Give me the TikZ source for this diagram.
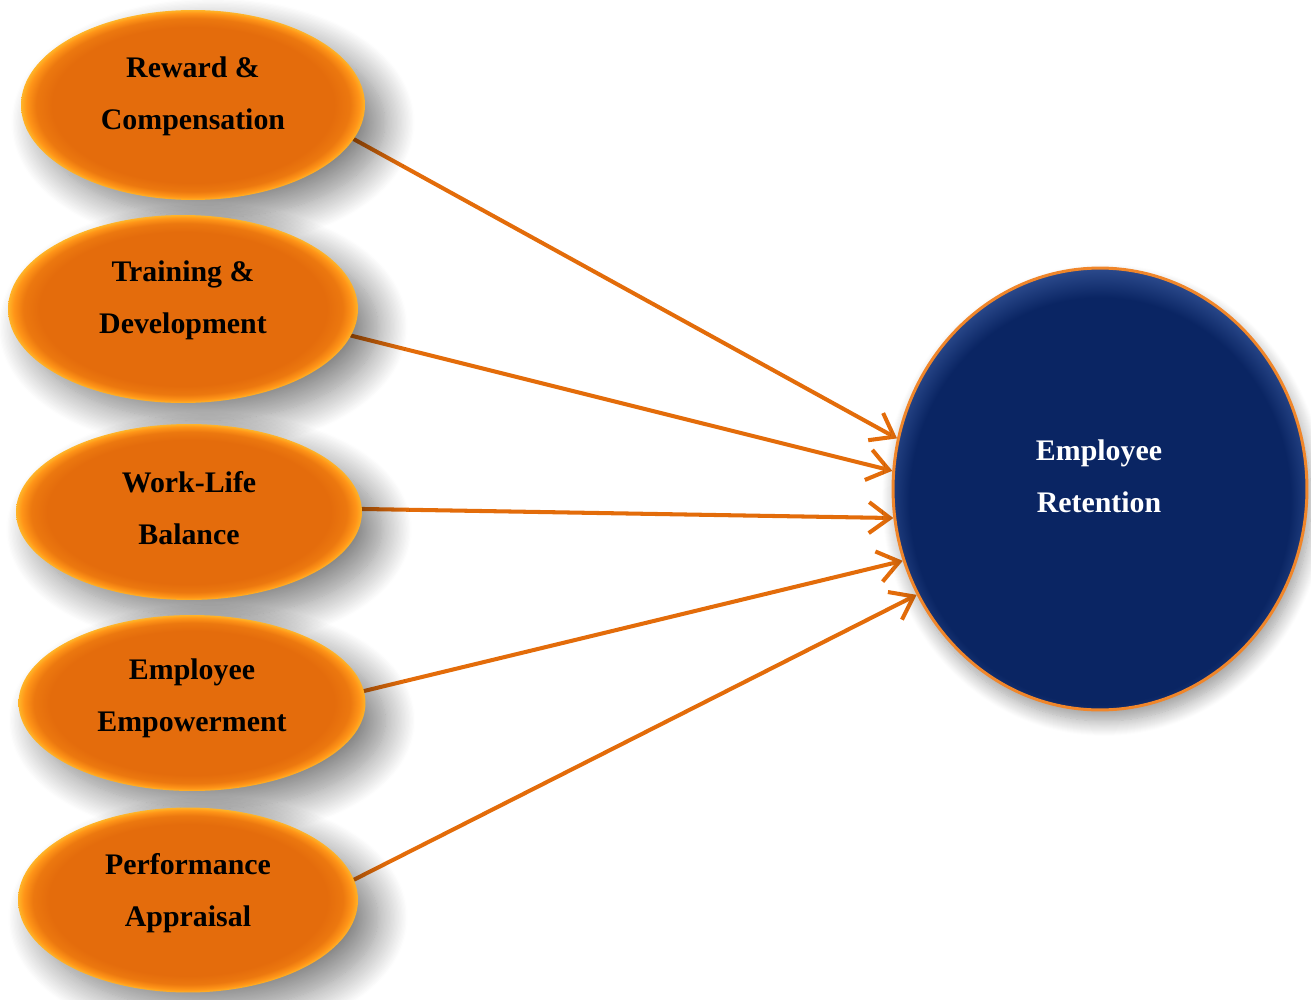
\documentclass[tikz,border=0pt]{standalone}
\usepackage{fontspec}
\setmainfont{Liberation Serif}
\usetikzlibrary{shapes.geometric,arrows.meta,shadows.blur}

\definecolor{ovalcore}{HTML}{E46C0C}
\definecolor{ovalmid}{HTML}{EC780F}
\definecolor{ovalrim}{HTML}{FF9518}
\definecolor{ovaledge}{HTML}{FFB428}
\definecolor{navy}{HTML}{0A2563}
\definecolor{navylight}{HTML}{3A5A9E}
\definecolor{ringorange}{HTML}{F0862A}
\definecolor{linkorange}{HTML}{E36C0A}

% glossy orange oval: the node border falls on the 25bp circle
\pgfdeclareradialshading{ovalglow}{\pgfpoint{0bp}{0bp}}{%
  color(0bp)=(ovalcore); color(20.5bp)=(ovalcore); color(22.8bp)=(ovalmid);
  color(24.2bp)=(ovalrim); color(25bp)=(ovaledge); color(50bp)=(ovaledge)}
% dark disc, lit from above
\pgfdeclareradialshading{discglow}{\pgfpoint{0bp}{-2.5bp}}{%
  color(0bp)=(navy); color(23bp)=(navy); color(27.5bp)=(navylight);
  color(50bp)=(navylight)}

\pgfdeclarelayer{background}
\pgfsetlayers{background,main}

\tikzset{
  oval/.style={ellipse, inner sep=0pt, shading=ovalglow,
    blur shadow={shadow xshift=0.4cm, shadow yshift=-0.35cm,
      shadow blur radius=0.6cm, shadow blur steps=24, shadow opacity=50}},
  ovaltext/.style={align=center, font=\fontsize{17}{29.5}\selectfont\bfseries,
    text=black, inner sep=0pt},
  disc/.style={ellipse, inner sep=0pt, shading=discglow,
    draw=ringorange, line width=1.7pt,
    blur shadow={shadow xshift=0.08cm, shadow yshift=-0.22cm,
      shadow blur radius=0.3cm, shadow blur steps=16, shadow opacity=40}},
  disctext/.style={align=center, font=\fontsize{17}{29.5}\selectfont\bfseries,
    text=white, inner sep=0pt},
  link/.style={draw=linkorange, line width=2.3pt, line cap=round,
    -{Straight Barb[length=0.42cm, width=0.62cm, line width=2.3pt]}}
}

\begin{document}
\begin{tikzpicture}[x=0.02cm, y=-0.02cm]
\useasboundingbox (0,0) rectangle (1311,1000);

% factor ovals
\node[oval, minimum width=6.88cm, minimum height=3.8cm]  (e1) at (193,105) {};
\node[oval, minimum width=7.0cm,  minimum height=3.76cm] (e2) at (183,309) {};
\node[oval, minimum width=6.92cm, minimum height=3.52cm] (e3) at (189,512) {};
\node[oval, minimum width=6.94cm, minimum height=3.52cm] (e4) at (192,703) {};
\node[oval, minimum width=6.8cm,  minimum height=3.7cm]  (e5) at (188,900) {};

\node[ovaltext] (l1) at (193,96)  {Reward \&\\Compensation};
\node[ovaltext] (l2) at (183,300) {Training \&\\Development};
\node[ovaltext] (l3) at (189,508) {Work-Life\\Balance};
\node[ovaltext] (l4) at (192,698) {Employee\\Empowerment};
\node[ovaltext] (l5) at (188,893) {Performance\\Appraisal};

% outcome
\node[disc, minimum width=8.28cm, minimum height=8.84cm] (ret) at (1100,489) {};
\node[disctext] (lr) at (1099,476) {Employee\\Retention};

% links, kept beneath the ovals and their shadows
\begin{pgfonlayer}{background}
\draw[link] (e1.-12)  -- (ret.166);
\draw[link] (e2.-9)   -- (ret.175);
\draw[link] (e3.1)    -- (ret.188);
\draw[link] (e4.4)    -- (ret.200);
\draw[link] (e5.7)    -- (ret.210);
\end{pgfonlayer}
\end{tikzpicture}
\end{document}
